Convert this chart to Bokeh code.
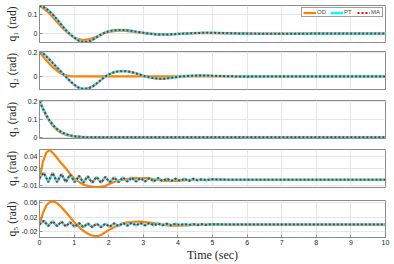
from bokeh.plotting import figure
from bokeh.layouts import gridplot
from bokeh.models import Range1d, FixedTicker, CustomJSTickFormatter
from bokeh.embed import file_html
from bokeh.resources import INLINE

# ---- time grids (sec) ----
t_main = [round(0.1 * i, 1) for i in range(51)] + [5.5, 6.0, 7.0, 8.0, 9.0, 10.0]
t_ripple = [round(0.0635 * i, 4) for i in range(79)] + [5.5, 6.0, 7.0, 8.0, 9.0, 10.0]

x_ticks = [0, 1, 2, 3, 4, 5, 6, 7, 8, 9, 10]
series_names = ["OD", "PT", "MA"]

# ---- q1 (rad), on t_main ----
od_q1 = [0.145, 0.135, 0.120, 0.103, 0.083, 0.062, 0.042, 0.023, 0.006, -0.008,
         -0.019, -0.027, -0.032, -0.033, -0.031, -0.026, -0.019, -0.011, -0.003, 0.004,
         0.009, 0.012, 0.014, 0.015, 0.015, 0.014, 0.012, 0.010, 0.008, 0.005,
         0.003, 0.001, -0.001, -0.002, -0.003, -0.003, -0.004, -0.004, -0.003, -0.003,
         -0.002, -0.001, 0.000, 0.001, 0.001, 0.002, 0.002, 0.002, 0.002, 0.002,
         0.002, 0.001, 0.000, 0.000, 0.000, 0.000, 0.000]
pt_q1 = [0.147, 0.142, 0.131, 0.116, 0.097, 0.076, 0.054, 0.032, 0.012, -0.006,
         -0.021, -0.034, -0.042, -0.045, -0.043, -0.036, -0.026, -0.014, -0.003, 0.006,
         0.012, 0.016, 0.018, 0.019, 0.019, 0.018, 0.016, 0.013, 0.010, 0.007,
         0.004, 0.001, -0.001, -0.003, -0.004, -0.005, -0.005, -0.005, -0.004, -0.003,
         -0.002, -0.001, 0.000, 0.001, 0.002, 0.003, 0.003, 0.004, 0.004, 0.004,
         0.004, 0.002, 0.000, -0.001, 0.000, 0.000, 0.000]
ma_q1 = list(pt_q1)

# ---- q2 (rad), on t_main ----
od_q2 = [0.200, 0.165, 0.132, 0.100, 0.072, 0.047, 0.028, 0.014, 0.006, 0.002,
         0.000, 0.000, 0.000, 0.000, 0.000, 0.000, 0.000, 0.000, 0.000, 0.000,
         0.000, 0.000, 0.000, 0.000, 0.000, 0.000, 0.000, 0.000, 0.000, 0.000,
         0.000, 0.000, 0.000, 0.000, 0.000, 0.000, 0.000, 0.000, 0.000, 0.000,
         0.000, 0.000, 0.000, 0.000, 0.000, 0.000, 0.000, 0.000, 0.000, 0.000,
         0.000, 0.000, 0.000, 0.000, 0.000, 0.000, 0.000]
pt_q2 = [0.200, 0.190, 0.165, 0.135, 0.105, 0.075, 0.045, 0.015, -0.015, -0.043,
         -0.068, -0.088, -0.100, -0.103, -0.099, -0.088, -0.070, -0.048, -0.024, -0.002,
         0.016, 0.029, 0.038, 0.042, 0.043, 0.042, 0.038, 0.032, 0.024, 0.015,
         0.006, -0.002, -0.009, -0.015, -0.018, -0.020, -0.019, -0.016, -0.012, -0.008,
         -0.004, -0.001, 0.002, 0.004, 0.005, 0.006, 0.007, 0.007, 0.007, 0.006,
         0.005, 0.001, -0.002, -0.001, 0.000, 0.000, 0.000]
ma_q2 = list(pt_q2)

# ---- q3 (rad), on t_main ----
od_q3 = [0.200, 0.158, 0.118, 0.085, 0.060, 0.041, 0.028, 0.018, 0.012, 0.007,
         0.004, 0.002, 0.001, 0.000, 0.000, 0.000, 0.000, 0.000, 0.000, 0.000,
         0.000, 0.000, 0.000, 0.000, 0.000, 0.000, 0.000, 0.000, 0.000, 0.000,
         0.000, 0.000, 0.000, 0.000, 0.000, 0.000, 0.000, 0.000, 0.000, 0.000,
         0.000, 0.000, 0.000, 0.000, 0.000, 0.000, 0.000, 0.000, 0.000, 0.000,
         0.000, 0.000, 0.000, 0.000, 0.000, 0.000, 0.000]
pt_q3 = [0.200, 0.160, 0.122, 0.090, 0.066, 0.047, 0.033, 0.022, 0.015, 0.010,
         0.006, 0.004, 0.002, 0.001, 0.000, 0.000, 0.000, 0.000, 0.000, 0.000,
         0.000, 0.000, 0.000, 0.000, 0.000, 0.000, 0.000, 0.000, 0.000, 0.000,
         0.000, 0.000, 0.000, 0.000, 0.000, 0.000, 0.000, 0.000, 0.000, 0.000,
         0.000, 0.000, 0.000, 0.000, 0.000, 0.000, 0.000, 0.000, 0.000, 0.000,
         0.000, 0.000, 0.000, 0.000, 0.000, 0.000, 0.000]
ma_q3 = list(pt_q3)

# ---- q4 (rad): OD on t_main, PT/MA on t_ripple ----
od_q4 = [0.000, 0.032, 0.048, 0.052, 0.046, 0.039, 0.031, 0.024, 0.017, 0.009,
         0.003, -0.002, -0.006, -0.009, -0.011, -0.012, -0.013, -0.013, -0.012, -0.011,
         -0.008, -0.005, -0.003, -0.001, 0.000, 0.001, 0.002, 0.003, 0.003, 0.003,
         0.003, 0.003, 0.002, 0.001, 0.000, -0.001, -0.002, -0.002, -0.002, -0.002,
         -0.002, -0.001, -0.001, 0.000, 0.000, 0.000, 0.000, 0.000, 0.000, 0.000,
         0.000, 0.000, 0.000, 0.000, 0.000, 0.000, 0.000]
pt_q4 = [0.003, 0.008, 0.012, 0.004, -0.004, 0.004, 0.012, 0.004, -0.004, 0.003,
         0.010, 0.003, -0.004, 0.003, 0.009, 0.002, -0.004, 0.001, 0.007, 0.001,
         -0.005, 0.001, 0.006, 0.000, -0.005, 0.000, 0.005, 0.000, -0.005, 0.000,
         0.005, 0.000, -0.004, 0.000, 0.004, 0.000, -0.004, 0.000, 0.004, 0.000,
         -0.003, 0.000, 0.004, 0.000, -0.003, 0.000, 0.003, 0.000, -0.003, 0.000,
         0.003, 0.000, -0.003, 0.000, 0.003, 0.000, -0.002, 0.000, 0.002, 0.000,
         -0.002, 0.000, 0.002, 0.000, -0.002, 0.000, 0.002, 0.000, -0.002, 0.000,
         0.002, 0.000, -0.001, 0.000, 0.001, 0.000, -0.001, 0.000, 0.001,
         0.000, 0.000, 0.000, 0.000, 0.000, 0.000]
ma_q4 = list(pt_q4)

# ---- q5 (rad): OD on t_main, PT/MA on t_ripple ----
od_q5 = [0.000, 0.032, 0.052, 0.061, 0.062, 0.058, 0.050, 0.040, 0.029, 0.018,
         0.007, -0.003, -0.012, -0.019, -0.025, -0.029, -0.031, -0.031, -0.027, -0.021,
         -0.015, -0.010, -0.005, -0.001, 0.003, 0.005, 0.006, 0.007, 0.008, 0.008,
         0.007, 0.006, 0.005, 0.004, 0.002, 0.001, -0.001, -0.002, -0.003, -0.003,
         -0.003, -0.003, -0.002, -0.002, -0.001, -0.001, 0.000, 0.000, 0.000, 0.000,
         0.000, 0.000, 0.000, 0.000, 0.000, 0.000, 0.000]
pt_q5 = [0.000, 0.006, 0.010, 0.003, -0.004, 0.003, 0.009, 0.002, -0.004, 0.002,
         0.008, 0.001, -0.005, 0.001, 0.006, 0.000, -0.006, -0.001, 0.004, -0.002,
         -0.007, -0.002, 0.003, -0.002, -0.007, -0.002, 0.002, -0.002, -0.007, -0.002,
         0.002, -0.002, -0.006, -0.001, 0.003, -0.001, -0.004, 0.000, 0.004, 0.001,
         -0.003, 0.001, 0.005, 0.001, -0.002, 0.001, 0.004, 0.001, -0.002, 0.001,
         0.004, 0.001, -0.002, 0.000, 0.003, 0.000, -0.002, 0.000, 0.002, 0.000,
         -0.002, 0.000, 0.002, 0.000, -0.001, 0.000, 0.001, 0.000, -0.001, 0.000,
         0.001, 0.000, -0.001, 0.000, 0.001, 0.000, -0.001, 0.000, 0.001,
         0.000, 0.000, 0.000, 0.000, 0.000, 0.000]
ma_q5 = list(pt_q5)

# ---- per-panel axis settings ----
y_labels = ["q\u2081 (rad)", "q\u2082 (rad)", "q\u2083 (rad)", "q\u2084 (rad)", "q\u2085 (rad)"]
y_ticks = [[0, 0.1], [0, 0.2], [0, 0.1, 0.2], [-0.01, 0.02, 0.04], [-0.02, 0.02, 0.06]]
y_limits = [(-0.047, 0.148), (-0.108, 0.205), (-0.007, 0.205), (-0.0135, 0.053), (-0.035, 0.065)]

panels = [
    (od_q1, t_main, pt_q1, ma_q1, t_main),
    (od_q2, t_main, pt_q2, ma_q2, t_main),
    (od_q3, t_main, pt_q3, ma_q3, t_main),
    (od_q4, t_main, pt_q4, ma_q4, t_ripple),
    (od_q5, t_main, pt_q5, ma_q5, t_ripple),
]

# layout (px): figure height, border top, border bottom, y-label standoff
fig_heights = [46, 49, 49, 49, 71]
borders_top = [5, 5, 5, 5, 7]
borders_bottom = [4, 6, 6, 6, 26]
label_standoffs = [7, 7, 7, 1, 1]

OD_COLOR = "#ff8000"
PT_COLOR = "#00ffff"
MA_COLOR = "#ff0000"
FRAME = "#8c8c8c"
fmt_code = "return String(Math.round(tick*1000)/1000);"

x_range = Range1d(0, 10)
figs = []
n = len(panels)
for i, (od, t_od, pt, ma, t_pt) in enumerate(panels):
    last = (i == n - 1)
    p = figure(width=394, height=fig_heights[i], output_backend="svg",
               toolbar_location=None, x_range=x_range,
               y_range=Range1d(*y_limits[i]))
    p.min_border_left = 39
    p.min_border_right = 9
    p.min_border_top = borders_top[i]
    p.min_border_bottom = borders_bottom[i]
    p.background_fill_color = "white"
    p.border_fill_color = "white"
    p.outline_line_color = FRAME
    p.outline_line_width = 1

    kw_od = dict(line_color=OD_COLOR, line_width=2.2)
    kw_pt = dict(line_color=PT_COLOR, line_width=2.6)
    kw_ma = dict(line_color=MA_COLOR, line_width=2, line_dash="2 2")
    if i == 0:
        p.line(t_od, od, legend_label=series_names[0], **kw_od)
        p.line(t_pt, pt, legend_label=series_names[1], **kw_pt)
        p.line(t_pt, ma, legend_label=series_names[2], **kw_ma)
    else:
        p.line(t_od, od, **kw_od)
        p.line(t_pt, pt, **kw_pt)
        p.line(t_pt, ma, **kw_ma)

    p.xaxis.ticker = FixedTicker(ticks=x_ticks)
    p.yaxis.ticker = FixedTicker(ticks=y_ticks[i])
    p.grid.grid_line_color = "#e6e6e6"
    p.grid.grid_line_width = 1

    ya = p.yaxis[0]
    ya.formatter = CustomJSTickFormatter(code=fmt_code)
    ya.major_label_text_font = "Liberation Sans"
    ya.major_label_text_font_size = "7px"
    ya.major_label_text_color = "#262626"
    ya.major_label_standoff = 2
    ya.major_tick_in = 3
    ya.major_tick_out = 0
    ya.minor_tick_in = 0
    ya.minor_tick_out = 0
    ya.axis_line_color = FRAME
    ya.major_tick_line_color = FRAME
    ya.axis_label = y_labels[i]
    ya.axis_label_text_font = "Liberation Serif"
    ya.axis_label_text_font_style = "normal"
    ya.axis_label_text_font_size = "11.5px"
    ya.axis_label_text_color = "#262626"
    ya.axis_label_standoff = label_standoffs[i]

    xa = p.xaxis[0]
    if last:
        xa.formatter = CustomJSTickFormatter(code=fmt_code)
        xa.major_label_text_font = "Liberation Sans"
        xa.major_label_text_font_size = "7px"
        xa.major_label_text_color = "#262626"
        xa.major_label_standoff = 2
        xa.major_tick_in = 3
        xa.major_tick_out = 0
        xa.minor_tick_in = 0
        xa.minor_tick_out = 0
        xa.axis_line_color = FRAME
        xa.major_tick_line_color = FRAME
        xa.axis_label = "Time (sec)"
        xa.axis_label_text_font = "Liberation Serif"
        xa.axis_label_text_font_style = "normal"
        xa.axis_label_text_font_size = "12px"
        xa.axis_label_text_color = "#262626"
        xa.axis_label_standoff = 0
    else:
        xa.visible = False

    if i == 0:
        lg = p.legend[0]
        lg.location = "top_right"
        lg.orientation = "horizontal"
        lg.label_text_font = "Liberation Sans"
        lg.label_text_font_size = "6px"
        lg.label_height = 5
        lg.label_width = 10
        lg.glyph_width = 13
        lg.glyph_height = 5
        lg.label_standoff = 1
        lg.spacing = 3
        lg.padding = 1
        lg.margin = 2
        lg.border_line_color = "#404040"
        lg.border_line_width = 0.7
        lg.background_fill_alpha = 1.0
    figs.append(p)

grid = gridplot(figs, ncols=1, toolbar_location=None)
open("out.html", "w").write(file_html(grid, INLINE))
